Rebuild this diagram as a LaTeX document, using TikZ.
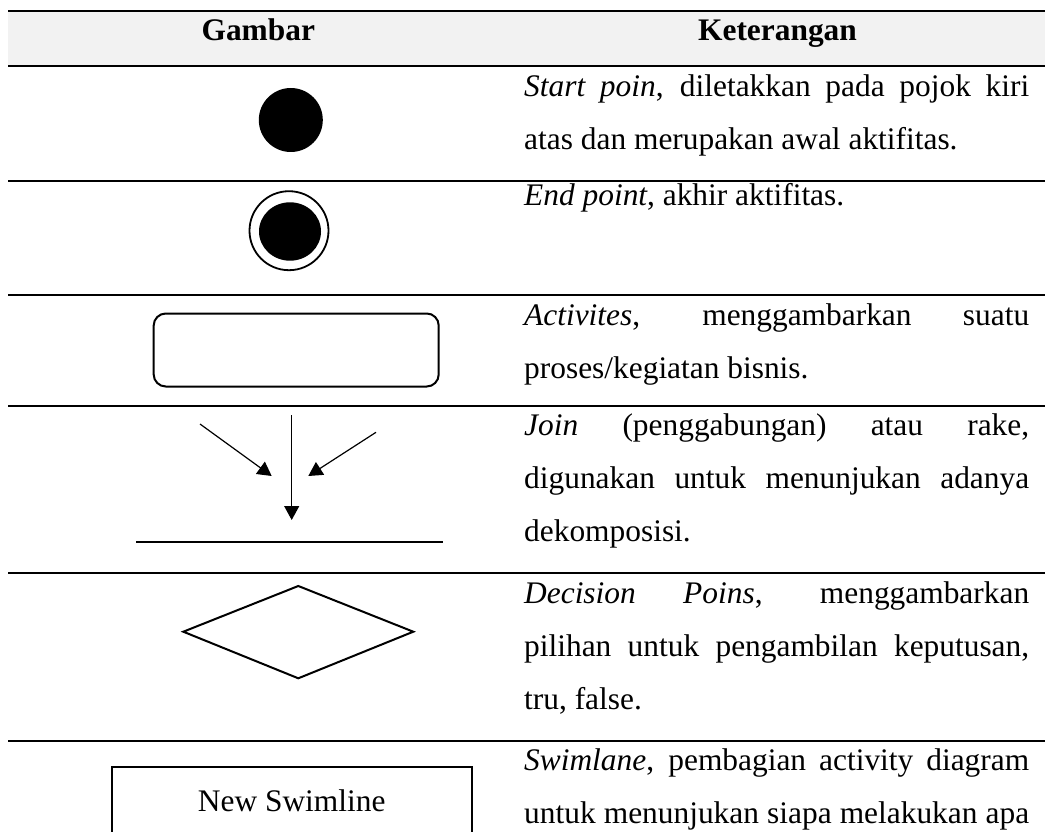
\documentclass[tikz,border=0pt]{standalone}
\usepackage{fontspec}
\setmainfont{Liberation Serif}
\usetikzlibrary{arrows.meta}
\definecolor{headgray}{HTML}{F2F2F2}
% one justified line of a description cell
\newcommand{\jline}[1]{\makebox[\linewidth][s]{#1}}
% a description cell: fixed width, fixed line pitch
\newcommand{\celltext}[1]{\parbox[t]{505pt}{\fontsize{31.4}{53.3}\selectfont #1}}
\begin{document}
\begin{tikzpicture}[x=1pt,y=-1pt,
  rule/.style={line width=2pt},
  cell/.style={anchor=base west, inner sep=0pt},
  head/.style={anchor=base, inner sep=0pt, font=\fontsize{31.4}{37}\selectfont\bfseries},
  sym/.style={line width=2pt},
  arr/.style={line width=1.2pt, -{Triangle[length=14pt,width=15pt]}}]
\useasboundingbox (0,0) rectangle (1045,832);
\clip (0,0) rectangle (1045,832);

% header band
\fill[headgray] (8,11) rectangle (1045,66);
\node[head] (hgambar) at (258.3,41) {Gambar};
\node[head] (hket) at (777.5,41) {Keterangan};

% horizontal rules
\foreach \yy in {11,66,181,294.5,406,573,740.5}
  \draw[rule] (8,\yy) -- (1045,\yy);

% start point
\node[circle, fill=black, minimum size=64pt, inner sep=0pt] (start) at (290.8,120) {};

% end point
\node[circle, draw=black, line width=1.8pt, minimum size=79pt, inner sep=0pt] (endouter) at (289,230.7) {};
\fill[black] (290,231.5) ellipse [x radius=31, y radius=29.2];

% activity
\node[draw=black, line width=2pt, rounded corners=12pt, minimum width=285pt, minimum height=73pt, inner sep=0pt] (act) at (296.2,350) {};

% join
\coordinate (vtop) at (291.7,415);
\coordinate (vtip) at (291.7,520);
\coordinate (ltail) at (200,424);
\coordinate (ltip) at (271.7,476);
\coordinate (rtail) at (376,432.3);
\coordinate (rtip) at (308.3,476);
\draw[arr] (vtop) -- (vtip);
\draw[arr] (ltail) -- (ltip);
\draw[arr] (rtail) -- (rtip);
\coordinate (barl) at (136,542.3);
\coordinate (barr) at (443.3,542.3);
\draw[sym] (barl) -- (barr);

% decision
\draw[sym, line join=miter] (183.3,631.7) -- (298.3,586) -- (413.3,631.7) -- (298.3,678.3) -- cycle;

% swimlane
\draw[sym] (111.7,860) |- (472.3,767.3) -- (472.3,860);
\node[anchor=base, inner sep=0pt, font=\fontsize{31.4}{37}\selectfont] (swim) at (291.7,811.7) {New Swimline};

% descriptions
\node[cell] (t1) at (524,96.7) {\celltext{\jline{\textit{Start poin}, diletakkan pada pojok kiri}\\
  atas dan merupakan awal aktifitas.}};
\node[cell] (t2) at (524,205) {\celltext{\textit{End point}, akhir aktifitas.}};
\node[cell] (t3) at (524,325) {\celltext{\jline{\textit{Activites}, menggambarkan suatu}\\
  proses/kegiatan bisnis.}};
\node[cell] (t4) at (524,435) {\celltext{\jline{\textit{Join} (penggabungan) atau rake,}\\
  \jline{digunakan untuk menunjukan adanya}\\
  dekomposisi.}};
\node[cell] (t5) at (524,603) {\celltext{\jline{\textit{Decision Poins}, menggambarkan}\\
  \jline{pilihan untuk pengambilan keputusan,}\\
  tru, false.}};
\node[cell] (t6) at (524,770) {\celltext{\jline{\textit{Swimlane}, pembagian activity diagram}\\
  \jline{untuk menunjukan siapa melakukan apa}}};
\end{tikzpicture}
\end{document}
